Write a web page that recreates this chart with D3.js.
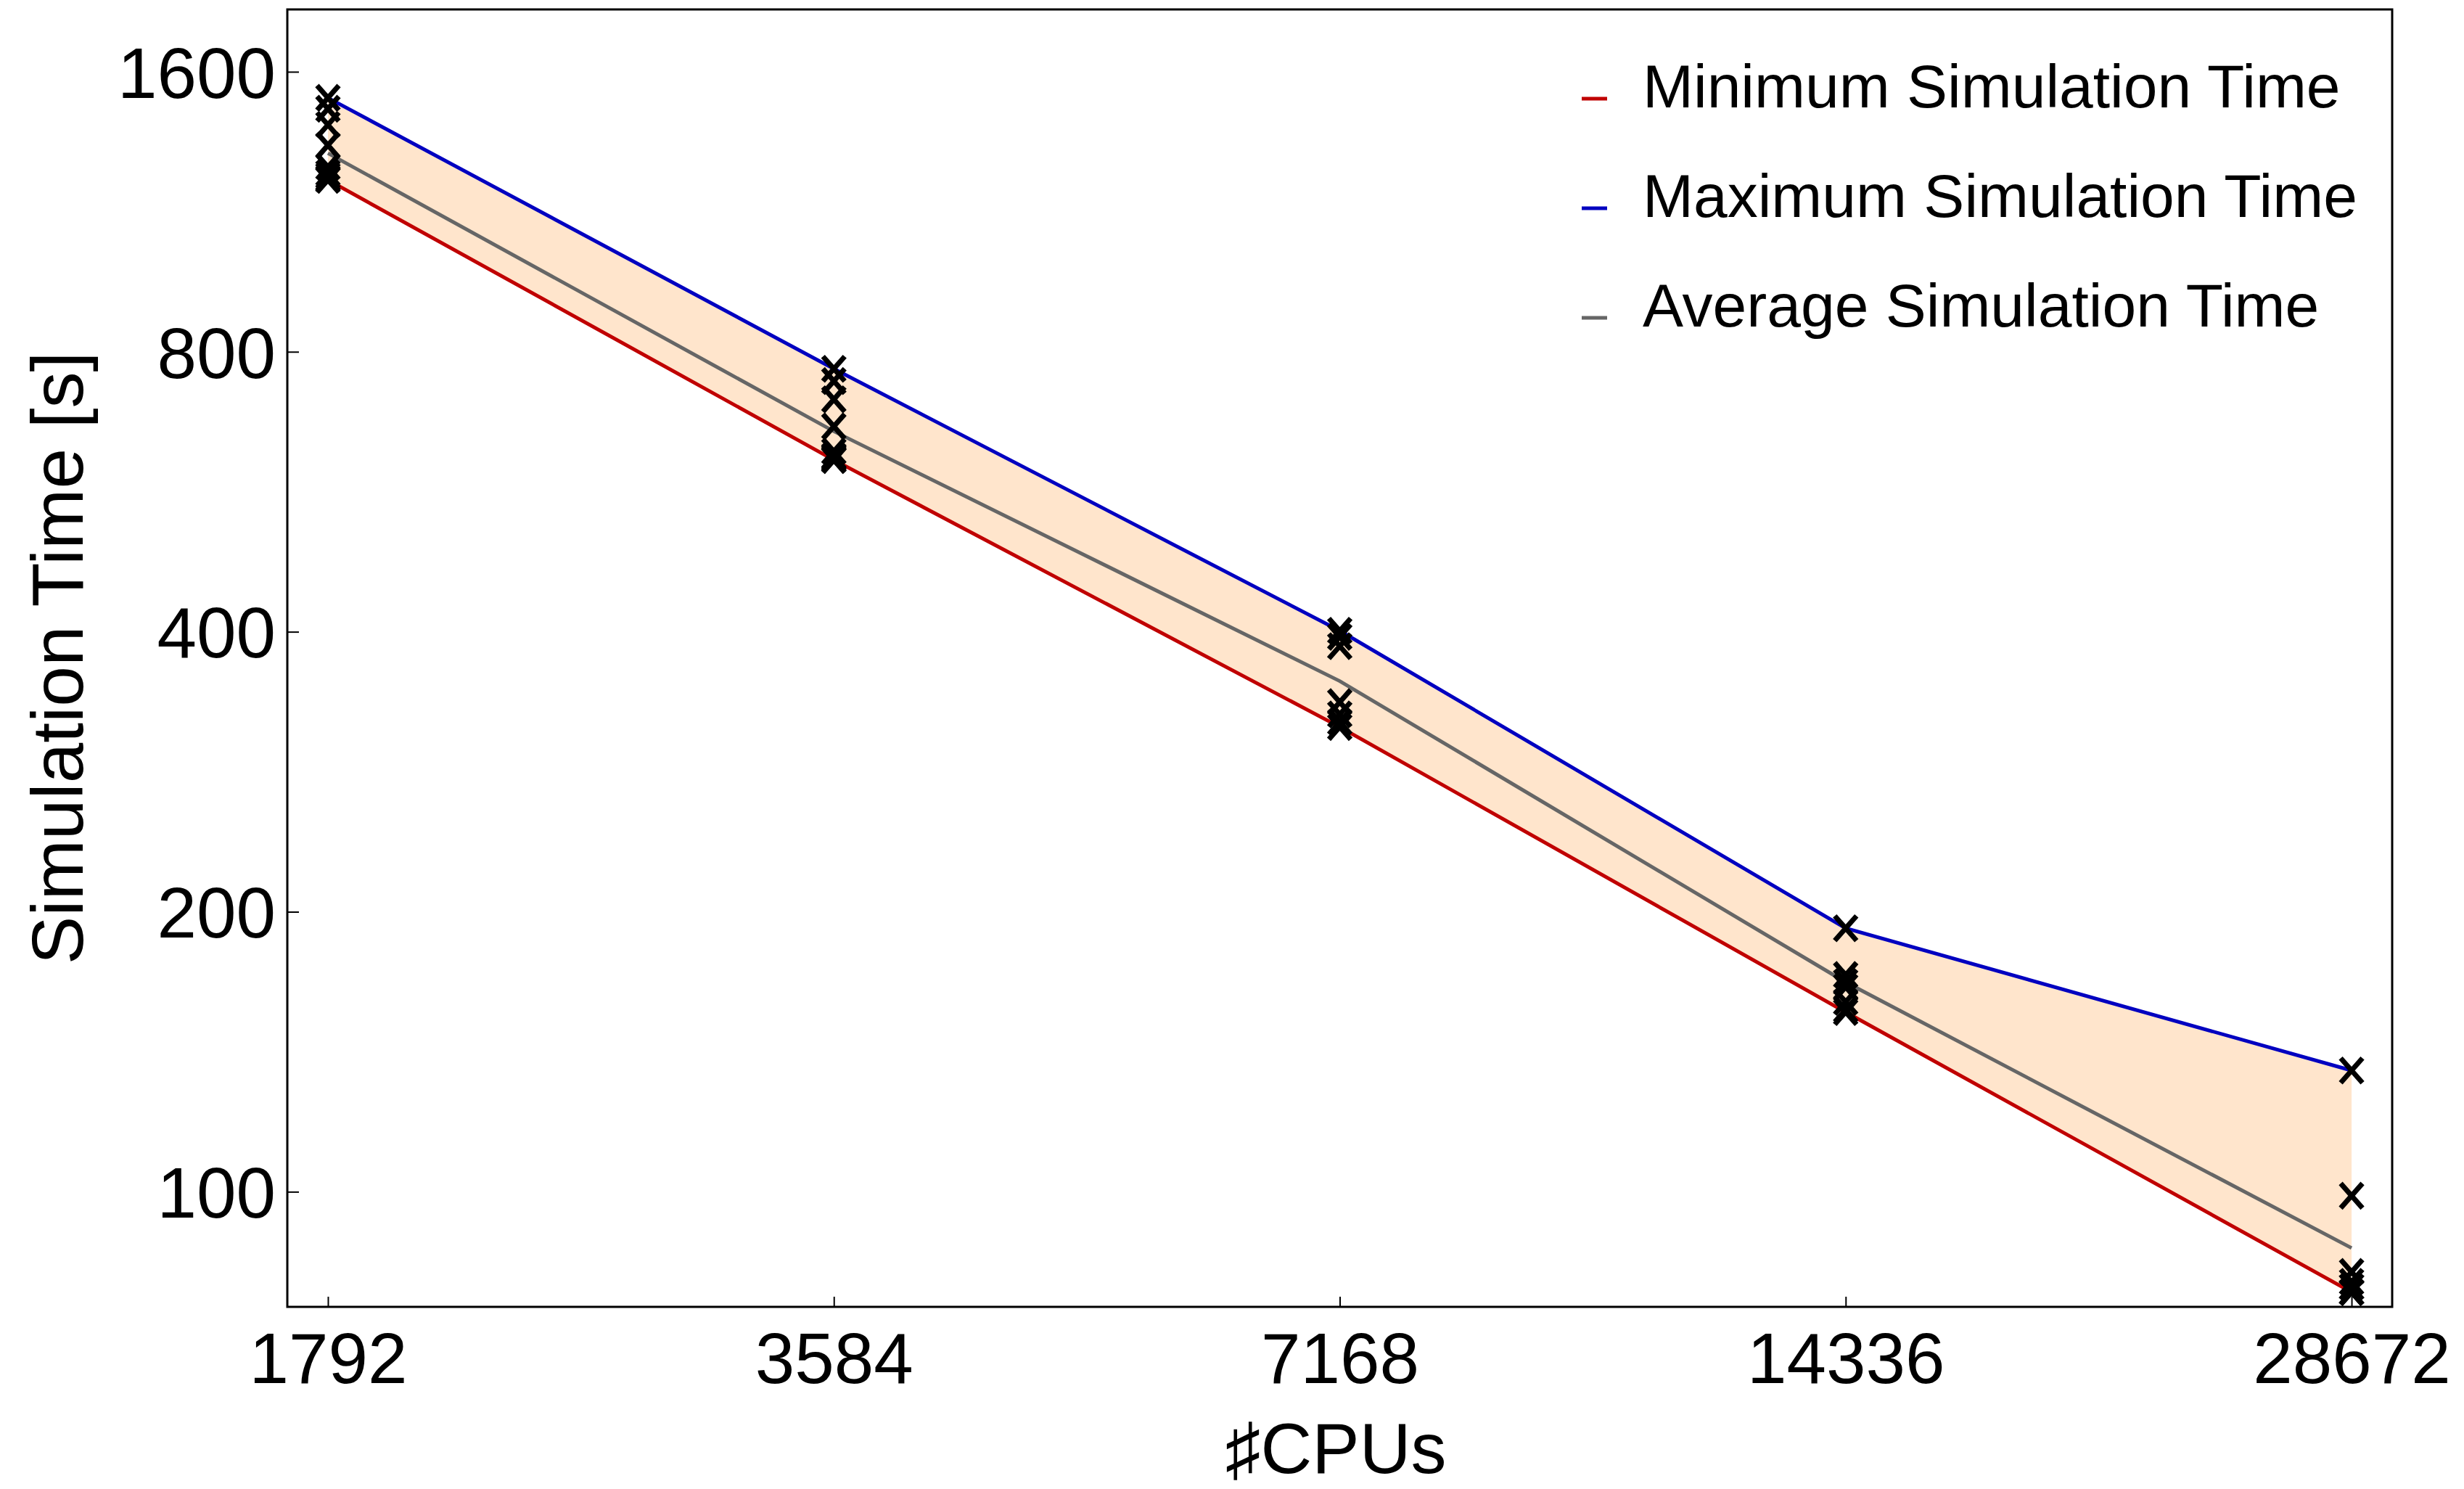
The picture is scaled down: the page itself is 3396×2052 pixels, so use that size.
<!DOCTYPE html>
<html>
<head>
<meta charset="utf-8">
<script src="https://cdn.jsdelivr.net/npm/d3@7"></script>
<style>
	body { margin: 0; background: #fff; }
	text { font-family: 'Liberation Sans', Arial, Helvetica, sans-serif; fill: #000; }
</style>
</head>
<body>
<script>
// Data
var cpus = [1792, 3584, 7168, 14336, 28672];
var minTime = [1224, 612, 316, 156, 78];
var maxTime = [1500, 767, 401, 192, 135];
var avgTime = [1308, 657, 354, 168, 87];
var runTimes = [
	[1500, 1460, 1403, 1334, 1264, 1245, 1237, 1230, 1226, 1224],
	[767, 744, 711, 665, 625, 618, 616, 614, 612, 612],
	[401, 395, 386, 336, 326, 320, 316],
	[192, 171, 168, 166, 160, 157, 156],
	[135, 99, 82, 80, 79, 79, 78, 78, 78]
];
var yTicks = [100, 200, 400, 800, 1600];
var legendLabels = ['Minimum Simulation Time', 'Maximum Simulation Time', 'Average Simulation Time'];
var legendColors = ['#c00000', '#0000c0', '#666666'];

// Set dimensions
var margin = { top: 13, right: 99, bottom: 251, left: 396 };
var width = 3396 - margin.left - margin.right,
	height = 2052 - margin.top - margin.bottom;

// Log scales on both axes
var x = d3.scaleLog().base(2).domain([1695, 30312]).range([0, width]);
var y = d3.scaleLog().domain([75.2, 1867]).range([height, 0]);

var svg = d3
	.select('body')
	.append('svg')
	.attr('width', 3396)
	.attr('height', 2052)
	.append('g')
	.attr('transform', 'translate(' + margin.left + ',' + margin.top + ')');

var rows = cpus.map((c, i) => ({ cpu: c, min: minTime[i], max: maxTime[i], avg: avgTime[i] }));

// Shaded band between min and max
svg
	.append('path')
	.datum(rows)
	.attr('fill', 'rgb(255,229,204)')
	.attr('d', d3.area().x(d => x(d.cpu)).y0(d => y(d.min)).y1(d => y(d.max)));

// Lines
var keys = ['min', 'max', 'avg'];
keys.forEach((k, i) => {
	svg
		.append('path')
		.datum(rows)
		.attr('fill', 'none')
		.attr('stroke', legendColors[i])
		.attr('stroke-width', 5)
		.attr('d', d3.line().x(d => x(d.cpu)).y(d => y(d[k])));
});

// Individual runs as x markers
var pts = [];
runTimes.forEach((r, i) => r.forEach(v => pts.push({ cpu: cpus[i], t: v })));
svg
	.selectAll('.run')
	.data(pts)
	.enter()
	.append('path')
	.attr('class', 'run')
	.attr('transform', d => 'translate(' + x(d.cpu) + ',' + y(d.t) + ')')
	.attr('d', 'M-15,-17L15,17M-15,17L15,-17')
	.attr('stroke', '#000')
	.attr('stroke-width', 7)
	.attr('fill', 'none');

// Axes
var yAxis = svg
	.append('g')
	.call(d3.axisLeft(y).tickValues(yTicks).tickFormat(d3.format('d')).tickSize(-16).tickPadding(16));
var xAxis = svg
	.append('g')
	.attr('transform', 'translate(0,' + height + ')')
	.call(d3.axisBottom(x).tickValues(cpus).tickFormat(d3.format('d')).tickSize(-14).tickPadding(35));
[yAxis, xAxis].forEach(a => {
	a.select('.domain').remove();
	a.selectAll('line').attr('stroke', '#000').attr('stroke-width', 2);
	a.selectAll('text').style('font-size', '98px').attr('fill', '#000');
});
yAxis.selectAll('text').attr('dy', '0.36em');

// Frame
svg
	.append('rect')
	.attr('width', width)
	.attr('height', height)
	.attr('fill', 'none')
	.attr('stroke', '#000')
	.attr('stroke-width', 3);

// Axis labels
svg
	.append('text')
	.attr('transform', 'rotate(-90)')
	.attr('x', -(907 - margin.top))
	.attr('y', 114 - margin.left)
	.style('text-anchor', 'middle')
	.style('font-size', '100px')
	.text('Simulation Time [s]');

svg
	.append('text')
	.attr('x', 1841 - margin.left)
	.attr('y', 2030 - margin.top)
	.style('text-anchor', 'middle')
	.style('font-size', '98px')
	.text('\u266FCPUs');

// Legend
var legend = svg
	.selectAll('.legend')
	.data(legendLabels)
	.enter()
	.append('g')
	.attr('class', 'legend')
	.attr('transform', (d, i) => 'translate(' + (2264 - margin.left) + ',' + (148 + i * 151 - margin.top) + ')');
legend
	.append('line')
	.attr('x1', -84)
	.attr('x2', -49)
	.attr('y1', -12)
	.attr('y2', -12)
	.attr('stroke', (d, i) => legendColors[i])
	.attr('stroke-width', 5);
legend
	.append('text')
	.style('font-size', '84px')
	.text(d => d);
</script>
</body>
</html>
